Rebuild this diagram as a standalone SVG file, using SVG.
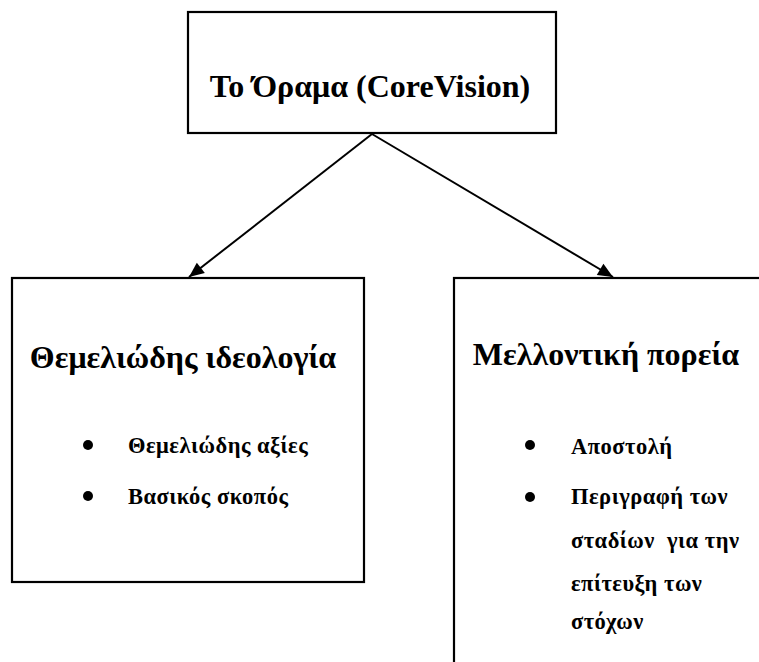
<svg xmlns="http://www.w3.org/2000/svg" width="759" height="662" viewBox="0 0 759 662">
  <style>
    .box { fill: #ffffff; stroke: #000000; stroke-width: 2.2; }
    .title { font-family: "Liberation Serif", "Times New Roman", serif; font-weight: bold; font-size: 32px; fill: #000; }
    .item { font-family: "Liberation Serif", "Times New Roman", serif; font-weight: bold; font-size: 22.5px; letter-spacing: 0.5px; fill: #000; }
    .dot { fill: #000; }
    .edge { stroke: #000; stroke-width: 2; fill: none; marker-end: url(#arrow); }
  </style>
  <defs>
    <marker id="arrow" viewBox="0 0 15 13" refX="15" refY="6.5" markerWidth="15" markerHeight="13" markerUnits="userSpaceOnUse" orient="auto" overflow="visible">
      <path d="M0,0 L15,6.5 L0,13 z" fill="#000"/>
    </marker>
  </defs>
  <rect width="759" height="662" fill="#ffffff"/>

  <!-- connectors -->
  <g id="connectors">
    <path class="edge" d="M372,134 L189,277"/>
    <path class="edge" d="M372,134 L613,277"/>
  </g>

  <!-- root: vision -->
  <g id="vision">
    <rect class="box" x="188" y="12" width="368" height="121"/>
    <text class="title" x="370" y="97" text-anchor="middle">Το Όραμα (CoreVision)</text>
  </g>

  <!-- core ideology -->
  <g id="ideology">
    <rect class="box" x="12" y="278" width="352" height="304"/>
    <text class="title" x="183" y="368" text-anchor="middle">Θεμελιώδης ιδεολογία</text>
    <circle class="dot" cx="88" cy="445" r="5"/>
    <text class="item" x="128" y="453">Θεμελιώδης αξίες</text>
    <circle class="dot" cx="88" cy="496" r="5"/>
    <text class="item" x="128" y="504">Βασικός σκοπός</text>
  </g>

  <!-- future direction -->
  <g id="future">
    <rect class="box" x="454" y="278" width="360" height="420"/>
    <text class="title" x="606" y="365" text-anchor="middle">Μελλοντική πορεία</text>
    <circle class="dot" cx="530" cy="445" r="5"/>
    <text class="item" x="571" y="454">Αποστολή</text>
    <circle class="dot" cx="530" cy="497" r="5"/>
    <text class="item" x="571" y="504">Περιγραφή των</text>
    <text class="item" x="571" y="548" xml:space="preserve">σταδίων  για την</text>
    <text class="item" x="571" y="591">επίτευξη των</text>
    <text class="item" x="571" y="629">στόχων</text>
  </g>
</svg>
